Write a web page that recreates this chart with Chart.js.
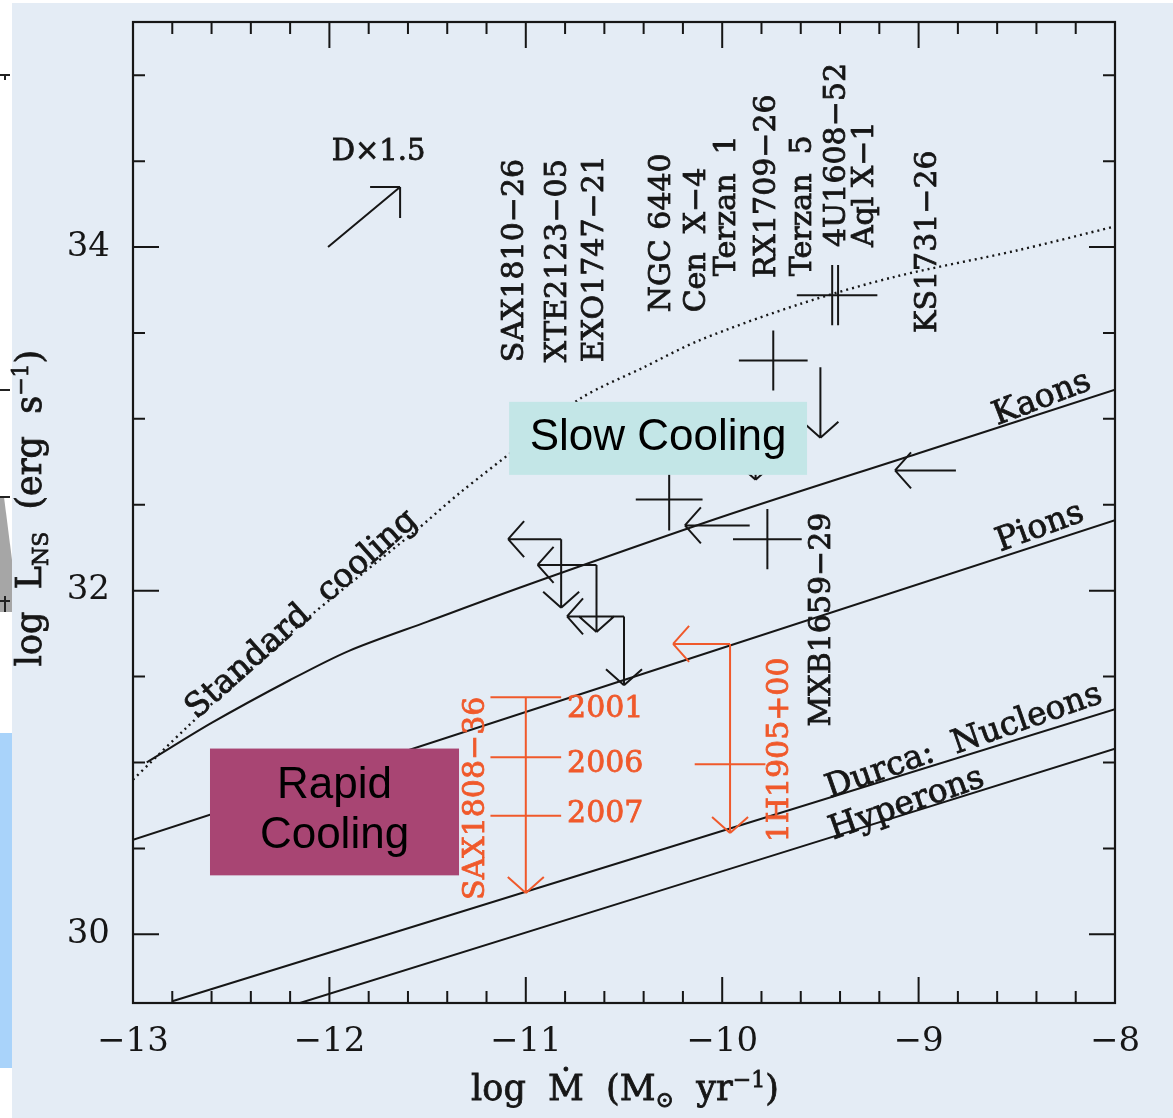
<!DOCTYPE html>
<html>
<head>
<meta charset="utf-8">
<script src="https://cdn.jsdelivr.net/npm/chart.js@4.4.1/dist/chart.umd.min.js"></script>
<style>
  html, body { margin: 0; padding: 0; background: #ffffff; }
  canvas { display: block; }
</style>
</head>
<body>
<canvas id="c" width="1173" height="1118"></canvas>
<script>
// ---- axis ranges and tick labels ----
const xMin = -13, xMax = -8;
const yMin = 29.6, yMax = 35.31;
const xTickLabels = [-13, -12, -11, -10, -9, -8];
const yTickLabels = [30, 32, 34];

// ---- cooling curves: log Mdot vs log L_NS ----
const standardX = [-13.0, -12.73, -12.4, -12.08, -11.57, -11.335, -11.0, -10.72, -10.4, -10.11, -9.6, -9.11, -8.5, -8.0];
const standardY = [30.90, 31.20, 31.55, 31.87, 32.34, 32.57, 32.87, 33.12, 33.30, 33.46, 33.67, 33.83, 33.98, 34.12];
const kaonsX = [-12.93, -12.6, -12.2, -11.9, -11.5, -11.0, -10.0, -9.0, -8.0];
const kaonsY = [31.00, 31.23, 31.48, 31.65, 31.82, 32.03, 32.43, 32.80, 33.17];
const pionsX = [-13.0, -8.0];
const pionsY = [30.55, 32.41];
const nucleonsX = [-12.80, -8.0];
const nucleonsY = [29.61, 31.31];
const hyperonsX = [-12.15, -8.0];
const hyperonsY = [29.60, 31.08];

// ---- measured sources (error crosses) ----
const crossX    = [-9.74, -9.44, -9.41, -10.27, -9.77];
const crossY    = [33.34, 33.72, 33.72, 32.53, 32.30];
const crossXErr = [0.175, 0.18, 0.20, 0.17, 0.175];
const crossYErr = [0.175, 0.175, 0.175, 0.18, 0.175];

// ---- luminosity upper limits (down arrows) ----
const lumLimX   = [-9.50, -9.83];
const lumLimTop = [33.30, 32.95];
const lumLimTip = [32.89, 32.645];

// ---- accretion-rate upper limits (left arrows) ----
const rateLimY    = [32.70, 32.38, 32.85];
const rateLimFrom = [-8.81, -9.86, -9.83];
const rateLimTip  = [-9.12, -10.19, -10.12];

// ---- limits on both quantities (corner + two arrows) ----
const bothX    = [-10.82, -10.64, -10.50];
const bothY    = [32.30, 32.15, 31.85];
const bothXTip = [-11.09, -10.94, -10.79];
const bothYTip = [31.90, 31.76, 31.45];

// ---- SAX J1808.4-3658 and 1H1905+00 ----
const saxYears = ['2001', '2006', '2007'];
const saxX = -11.0;
const saxY = [31.38, 31.03, 30.69];
const saxXErr = 0.18;
const saxLimTip = 30.24;
const saxYearLabelY = [31.31, 30.99, 30.70];
const h1905X = -9.96;
const h1905Y = 31.69;
const h1905XTip = -10.25;
const h1905YTip = 30.59;
const h1905BarY = 30.99;
const h1905XErr = 0.18;

// ---- source names (vertical text) ----
const sourceNames = ['SAX1810\u221226', 'XTE2123\u221205', 'EXO1747\u221221', 'NGC 6440', 'Cen  X\u22124', 'Terzan  1',
                     'RX1709\u221226', 'Terzan  5', '4U1608\u221252', 'Aql X\u22121', 'KS1731\u221226', 'MXB1659\u221229'];
const sourceNameX = [-11.055, -10.836, -10.648, -10.307, -10.128, -9.976, -9.772, -9.589, -9.415, -9.273, -8.952, -9.49];
const sourceNameY = [33.33, 33.33, 33.33, 33.62, 33.62, 33.83, 33.82, 33.83, 34.0, 34.0, 33.5, 31.21];
const orangeNames = ['SAX1808\u221236', '1H1905+00'];
const orangeNameX = [-11.25, -9.706];
const orangeNameY = [30.20, 30.535];

// ---- curve labels ----
const curveLabels = ['Standard  cooling', 'Kaons', 'Pions', 'Durca:  Nucleons', 'Hyperons'];
const curveLabelX = [-12.14, -8.372, -8.382, -8.769, -9.06];
const curveLabelY = [31.86, 33.116, 32.366, 31.12, 30.756];
const curveLabelAngle = [-41.6, -21, -20, -19.3, -19.5];

// ---- region boxes ----
const slowBox = { x0: -11.085, x1: -9.568, y0: 32.674, y1: 33.099, lines: ['Slow Cooling'] };
const rapidBox = { x0: -12.608, x1: -11.34, y0: 30.343, y1: 31.081, lines: ['Rapid', 'Cooling'] };

// ---- distance scaling arrow ----
const distArrow = { x0: -12.007, y0: 34.0, x1: -11.64, y1: 34.35, label: 'D\u00d71.5', lx: -11.75, ly: 34.55 };

const INK = '#161616';
const ORANGE = '#f0592b';
const SERIF = '"DejaVu Serif", serif';
const SANS = '"Liberation Sans", Arial, sans-serif';

function pts(xs, ys) { return xs.map((x, i) => ({ x: x, y: ys[i] })); }
function minus(v) { return v < 0 ? '\u2212' + Math.abs(v) : String(v); }

const paperPlugin = {
  id: 'paper',
  beforeDraw(chart) {
    const c = chart.ctx;
    c.save();
    c.fillStyle = '#ffffff';
    c.fillRect(0, 0, chart.width, chart.height);
    c.fillStyle = '#e4ecf5';
    c.fillRect(12, 3, chart.width - 12, chart.height - 3);
    // edge of the neighbouring slide on the left
    c.fillStyle = '#a9d3fa';
    c.fillRect(0, 733, 12, 335);
    c.fillStyle = '#a6a6a6';
    c.beginPath();
    c.moveTo(0, 497); c.lineTo(4, 497); c.lineTo(12, 560); c.lineTo(12, 612); c.lineTo(0, 612); c.closePath();
    c.fill();
    c.strokeStyle = '#222';
    c.lineWidth = 2;
    c.beginPath();
    c.moveTo(0, 75); c.lineTo(10, 75); c.moveTo(5, 75); c.lineTo(5, 80);
    c.moveTo(0, 390); c.lineTo(10, 390);
    c.moveTo(0, 497); c.lineTo(10, 497);
    c.moveTo(0, 601); c.lineTo(10, 601); c.moveTo(5, 596); c.lineTo(5, 612);
    c.stroke();
    c.restore();
  }
};

function seg(c, x0, y0, x1, y1) { c.moveTo(x0, y0); c.lineTo(x1, y1); }
function headDown(c, x, y) { seg(c, x - 18, y - 16, x, y); seg(c, x, y, x + 18, y - 16); }
function headLeft(c, x, y) { seg(c, x + 16, y - 18, x, y); seg(c, x, y, x + 16, y + 18); }

// filled text with a thin outline so the serif glyphs read a little heavier
function inkText(c, s, x, y) {
  c.fillText(s, x, y);
  c.strokeText(s, x, y);
}

function vText(c, s, x, y) {
  c.save();
  c.translate(x, y);
  c.rotate(-Math.PI / 2);
  c.textAlign = 'left';
  c.textBaseline = 'middle';
  inkText(c, s, 0, 0);
  c.restore();
}

// draws a run of [text, size, dy] pieces centred on (0,0) along the baseline
function runText(c, pieces) {
  let total = 0;
  const widths = pieces.map(p => { c.font = p[1] + 'px ' + SERIF; const w = c.measureText(p[0]).width; total += w; return w; });
  let x = -total / 2;
  c.textAlign = 'left';
  c.textBaseline = 'alphabetic';
  pieces.forEach((p, i) => { c.font = p[1] + 'px ' + SERIF; inkText(c, p[0], x, p[2]); x += widths[i]; });
}

const marksPlugin = {
  id: 'marks',
  afterDatasetsDraw(chart) {
    const c = chart.ctx;
    const sx = chart.scales.x, sy = chart.scales.y;
    const X = v => sx.getPixelForValue(v);
    const Y = v => sy.getPixelForValue(v);
    const a = chart.chartArea;

    c.save();
    c.lineCap = 'butt';
    c.lineJoin = 'miter';

    // black symbols
    c.strokeStyle = INK;
    c.lineWidth = 2;
    c.beginPath();
    crossX.forEach((x, i) => {
      seg(c, X(x - crossXErr[i]), Y(crossY[i]), X(x + crossXErr[i]), Y(crossY[i]));
      seg(c, X(x), Y(crossY[i] - crossYErr[i]), X(x), Y(crossY[i] + crossYErr[i]));
    });
    lumLimX.forEach((x, i) => {
      seg(c, X(x), Y(lumLimTop[i]), X(x), Y(lumLimTip[i]));
      headDown(c, X(x), Y(lumLimTip[i]));
    });
    rateLimY.forEach((y, i) => {
      seg(c, X(rateLimFrom[i]), Y(y), X(rateLimTip[i]), Y(y));
      headLeft(c, X(rateLimTip[i]), Y(y));
    });
    bothX.forEach((x, i) => {
      seg(c, X(bothXTip[i]), Y(bothY[i]), X(x), Y(bothY[i]));
      seg(c, X(x), Y(bothY[i]), X(x), Y(bothYTip[i]));
      headLeft(c, X(bothXTip[i]), Y(bothY[i]));
      headDown(c, X(x), Y(bothYTip[i]));
    });
    // distance-scaling arrow
    seg(c, X(distArrow.x0), Y(distArrow.y0), X(distArrow.x1), Y(distArrow.y1));
    seg(c, X(distArrow.x1) - 30, Y(distArrow.y1), X(distArrow.x1), Y(distArrow.y1));
    seg(c, X(distArrow.x1), Y(distArrow.y1), X(distArrow.x1), Y(distArrow.y1) + 31);
    c.stroke();

    // orange sources
    c.strokeStyle = ORANGE;
    c.beginPath();
    saxY.forEach(y => seg(c, X(saxX - saxXErr), Y(y), X(saxX + saxXErr), Y(y)));
    seg(c, X(saxX), Y(Math.max(...saxY)), X(saxX), Y(saxLimTip));
    headDown(c, X(saxX), Y(saxLimTip));
    seg(c, X(h1905XTip), Y(h1905Y), X(h1905X), Y(h1905Y));
    seg(c, X(h1905X), Y(h1905Y), X(h1905X), Y(h1905YTip));
    headLeft(c, X(h1905XTip), Y(h1905Y));
    headDown(c, X(h1905X), Y(h1905YTip));
    seg(c, X(h1905X - h1905XErr), Y(h1905BarY), X(h1905X + h1905XErr), Y(h1905BarY));
    c.stroke();

    // text labels
    c.fillStyle = INK;
    c.strokeStyle = INK;
    c.lineWidth = 0.8;
    c.font = '30px ' + SERIF;
    sourceNames.forEach((s, i) => vText(c, s, X(sourceNameX[i]), Y(sourceNameY[i])));
    c.font = '29px ' + SERIF;
    c.textAlign = 'center';
    c.textBaseline = 'middle';
    inkText(c, distArrow.label, X(distArrow.lx), Y(distArrow.ly));
    c.font = '33px ' + SERIF;
    curveLabels.forEach((s, i) => {
      c.save();
      c.translate(X(curveLabelX[i]), Y(curveLabelY[i]));
      c.rotate(curveLabelAngle[i] * Math.PI / 180);
      c.textAlign = 'center';
      c.textBaseline = 'middle';
      inkText(c, s, 0, 0);
      c.restore();
    });
    c.fillStyle = ORANGE;
    c.strokeStyle = ORANGE;
    c.font = '30px ' + SERIF;
    orangeNames.forEach((s, i) => vText(c, s, X(orangeNameX[i]), Y(orangeNameY[i])));
    c.textAlign = 'left';
    c.textBaseline = 'middle';
    saxYears.forEach((s, i) => inkText(c, s, X(-10.79), Y(saxYearLabelY[i])));

    // region boxes
    [[slowBox, '#c3e6e7'], [rapidBox, '#a84573']].forEach(([b, col]) => {
      const x0 = X(b.x0), x1 = X(b.x1), y0 = Y(b.y1), y1 = Y(b.y0);
      c.fillStyle = col;
      c.fillRect(x0, y0, x1 - x0, y1 - y0);
      c.fillStyle = '#000';
      c.font = '44px ' + SANS;
      c.textAlign = 'center';
      c.textBaseline = 'middle';
      const n = b.lines.length, cx = (x0 + x1) / 2, cy = (y0 + y1) / 2;
      b.lines.forEach((s, i) => c.fillText(s, cx, cy + (i - (n - 1) / 2) * 50 - 1));
    });

    // frame and inward ticks on all four sides
    c.strokeStyle = INK;
    c.lineWidth = 2.2;
    c.strokeRect(a.left, a.top, a.right - a.left, a.bottom - a.top);
    c.lineWidth = 2;
    c.beginPath();
    for (let i = 1; i < 25; i++) {
      const v = xMin + 0.2 * i;
      const len = (i % 5 === 0) ? 26 : 12;
      const x = X(v);
      seg(c, x, a.bottom, x, a.bottom - len);
      seg(c, x, a.top, x, a.top + len);
    }
    for (let v = 30; v <= 35.01; v += 0.5) {
      const len = yTickLabels.includes(v) ? 26 : 12;
      const y = Y(v);
      seg(c, a.left, y, a.left + len, y);
      seg(c, a.right, y, a.right - len, y);
    }
    c.stroke();

    // axis titles
    c.fillStyle = INK;
    c.strokeStyle = INK;
    c.lineWidth = 0.8;
    c.save();
    c.translate(625, 1100);
    runText(c, [['log  \u1E40  (M', 35, 0], ['\u2299', 22, 7], ['  yr', 35, 0], ['\u22121', 22, -13], [')', 35, 0]]);
    c.restore();
    c.save();
    c.translate(41, 508);
    c.rotate(-Math.PI / 2);
    runText(c, [['log  L', 35, 0], ['NS', 22, 7], ['  (erg  s', 35, 0], ['\u22121', 22, -13], [')', 35, 0]]);
    c.restore();

    c.restore();
  }
};

const lineStyle = { showLine: true, pointRadius: 0, borderColor: INK, borderWidth: 2, fill: false, tension: 0.3 };

new Chart(document.getElementById('c').getContext('2d'), {
  type: 'scatter',
  data: {
    datasets: [
      Object.assign({}, lineStyle, { label: 'Standard cooling', data: pts(standardX, standardY), borderDash: [2, 4], borderWidth: 2.4 }),
      Object.assign({}, lineStyle, { label: 'Kaons', data: pts(kaonsX, kaonsY) }),
      Object.assign({}, lineStyle, { label: 'Pions', data: pts(pionsX, pionsY) }),
      Object.assign({}, lineStyle, { label: 'Durca: Nucleons', data: pts(nucleonsX, nucleonsY) }),
      Object.assign({}, lineStyle, { label: 'Hyperons', data: pts(hyperonsX, hyperonsY) })
    ]
  },
  options: {
    responsive: false,
    devicePixelRatio: 1,
    animation: false,
    events: [],
    layout: { padding: { left: 0, top: 22, right: 58, bottom: 0 } },
    plugins: { legend: { display: false }, tooltip: { enabled: false } },
    scales: {
      x: {
        type: 'linear', min: xMin, max: xMax,
        grid: { display: false, drawTicks: false },
        border: { display: false },
        ticks: { padding: 19, color: INK, font: { family: 'DejaVu Serif', size: 34 }, maxRotation: 0, autoSkip: false, callback: v => minus(v) },
        afterBuildTicks: s => { s.ticks = xTickLabels.map(v => ({ value: v })); },
        afterFit: s => { s.height = 115; s.paddingLeft = 0; s.paddingRight = 0; }
      },
      y: {
        type: 'linear', min: yMin, max: yMax,
        grid: { display: false, drawTicks: false },
        border: { display: false },
        ticks: { padding: 23, color: INK, font: { family: 'DejaVu Serif', size: 34 }, autoSkip: false, callback: v => minus(v) },
        afterBuildTicks: s => { s.ticks = yTickLabels.map(v => ({ value: v })); },
        afterFit: s => { s.width = 133; s.paddingTop = 0; s.paddingBottom = 0; }
      }
    }
  },
  plugins: [paperPlugin, marksPlugin]
});
</script>
</body>
</html>
